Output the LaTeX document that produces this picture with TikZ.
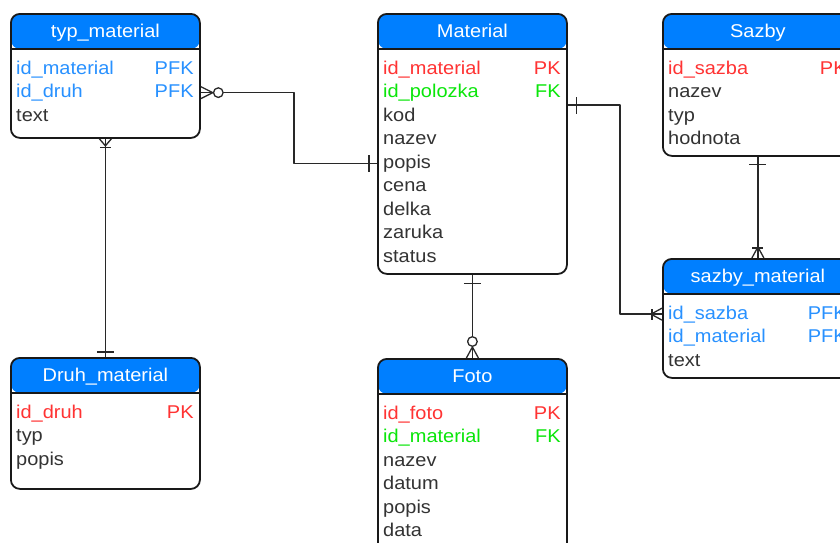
\documentclass[tikz,border=0pt]{standalone}
\usepackage{fontspec}
\setmainfont{Liberation Sans}[FakeStretch=1.08]
\usetikzlibrary{calc,decorations.markings}
\definecolor{hlava}{RGB}{0,127,255}
\definecolor{okraj}{RGB}{25,25,25}
\definecolor{cara}{RGB}{40,40,40}
\definecolor{sedy}{RGB}{51,51,51}
\definecolor{pkbarva}{RGB}{255,51,51}
\definecolor{fkbarva}{RGB}{10,230,10}
\definecolor{pfkbarva}{RGB}{40,145,255}

\tikzset{
  tabulka/.style={draw=okraj, line width=1.8pt, rounded corners=9pt, fill=white,
    anchor=north west, inner sep=0pt,
    path picture={\fill[hlava] (path picture bounding box.north west) rectangle ([yshift=-35pt]path picture bounding box.north east);
      \draw[okraj, line width=1.6pt] ([yshift=-35pt]path picture bounding box.north west) -- ([yshift=-35pt]path picture bounding box.north east);}},
  titul/.style={text=white, anchor=base, inner sep=0pt},
  ob/.style={text=sedy, inner sep=0pt},
  pk/.style={text=pkbarva, inner sep=0pt},
  fk/.style={text=fkbarva, inner sep=0pt},
  pfk/.style={text=pfkbarva, inner sep=0pt},
  vazba/.style={draw=cara, line width=1.3pt},
  % znacky na konci vazeb
  jedna/.style={postaction={decorate,decoration={markings,
    mark=at position #1 with {\draw[cara, line width=1.3pt] (0,-8.5pt) -- (0,8.5pt);}}}},
  jednam/.style={postaction={decorate,decoration={markings,
    mark=at position #1 with {\draw[cara, line width=1.3pt] (0,-5.5pt) -- (0,5.5pt);}}}},
  nula/.style={postaction={decorate,decoration={markings,
    mark=at position #1 with {\draw[cara, line width=1.3pt, fill=white] (0,0) circle (4.8pt);}}}},
  mnoho-z/.style={postaction={decorate,decoration={markings,
    mark=at position #1 with {\draw[cara, line width=1.3pt] (-#1,-6pt) -- (0,0) -- (-#1,6pt);}}}},
  mnoho-k/.style={postaction={decorate,decoration={markings,
    mark=at position -#1 with {\draw[cara, line width=1.3pt] (#1,-6pt) -- (0,0) -- (#1,6pt);}}}},
}

% radky tabulky: jmeno/klic/styl
\newcommand{\radky}[2]{%
  \foreach \jm/\kl/\st [count=\i] in {#2}{
    \node[\st, anchor=base west] (#1-\i) at ($(#1.north west)+(6pt,-37.5pt-23.5pt*\i)$) {\jm};
    \ifx\kl\empty\else
      \node[\st, anchor=base east] (#1-k\i) at ($(#1.north east)+(-7pt,-37.5pt-23.5pt*\i)$) {\kl};
    \fi
  }}

\begin{document}
\begin{tikzpicture}[x=1pt, y=-1pt, font=\fontsize{18.5}{22}\selectfont, line join=round]
\useasboundingbox (0,0) rectangle (840,542);
% tabulky
\node[tabulka, minimum width=189pt, minimum height=124pt] (typ) at (10,13) {};
\node[tabulka, minimum width=189pt, minimum height=260pt] (mat) at (377,13) {};
\node[tabulka, minimum width=190pt, minimum height=142pt] (saz) at (662,13) {};
\node[tabulka, minimum width=190pt, minimum height=119pt] (sm) at (662,258) {};
\node[tabulka, minimum width=189pt, minimum height=131pt] (druh) at (10,357) {};
\node[tabulka, minimum width=189pt, minimum height=205pt] (foto) at (377,358) {};

\node[titul] (typ-t) at ($(typ.north)+(0,-24pt)$) {typ\_material};
\node[titul] (mat-t) at ($(mat.north)+(0,-24pt)$) {Material};
\node[titul] (saz-t) at ($(saz.north)+(0,-24pt)$) {Sazby};
\node[titul] (sm-t) at ($(sm.north)+(0,-24pt)$) {sazby\_material};
\node[titul] (druh-t) at ($(druh.north)+(0,-24pt)$) {Druh\_material};
\node[titul] (foto-t) at ($(foto.north)+(0,-24pt)$) {Foto};

\radky{typ}{id\_material/PFK/pfk, id\_druh/PFK/pfk, text//ob}
\radky{mat}{id\_material/PK/pk, id\_polozka/FK/fk, kod//ob, nazev//ob, popis//ob, cena//ob, delka//ob, zaruka//ob, status//ob}
\radky{saz}{id\_sazba/PK/pk, nazev//ob, typ//ob, hodnota//ob}
\radky{sm}{id\_sazba/PFK/pfk, id\_material/PFK/pfk, text//ob}
\radky{druh}{id\_druh/PK/pk, typ//ob, popis//ob}
\radky{foto}{id\_foto/PK/pk, id\_material/FK/fk, nazev//ob, datum//ob, popis//ob, data//ob}

% vazby
\coordinate (k1) at (294,0);
\coordinate (k2) at (620,0);
\draw[vazba, mnoho-z=12pt, nula=17.5pt, jedna=-8pt]
  (typ-2 -| typ.east) -| (k1 |- mat-5) -- (mat-5 -| mat.west);
\draw[vazba, jedna=9pt, mnoho-k=11pt, jednam=-10pt]
  ($(mat.north east)+(0,-92pt)$) -| (k2 |- sm-1) -- (sm-1 -| sm.west);
\draw[vazba, jedna=8pt, mnoho-k=11pt, jednam=-10pt] (saz.south) -- (sm.north);
\draw[vazba, mnoho-z=7pt, jednam=9pt, jedna=-5pt] (typ.south) -- (druh.north);
\draw[vazba, jedna=9pt, mnoho-k=11pt, nula=-16.5pt] (mat.south) -- (foto.north);
\end{tikzpicture}
\end{document}
